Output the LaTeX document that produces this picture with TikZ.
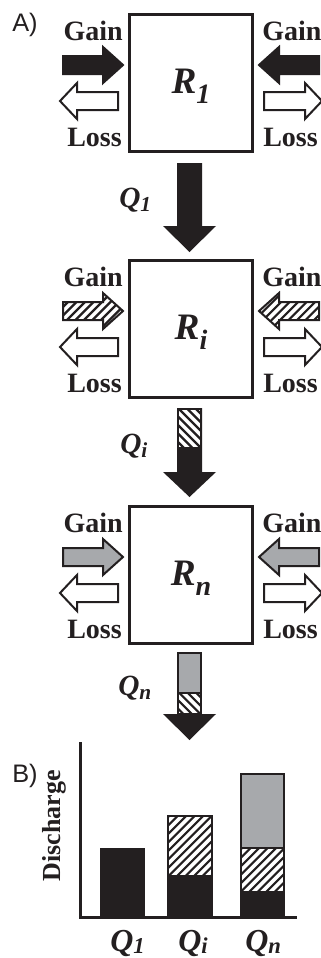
\documentclass[tikz,border=0pt]{standalone}
\usepackage{fontspec}
\setmainfont{Liberation Serif}
\newfontfamily\labelsans{Liberation Sans}
\definecolor{ink}{HTML}{231F20}
\definecolor{midgray}{HTML}{A7A9AC}
% horizontal block arrow: tail x, head-base x, tip x, centre y
\newcommand\rarr[4]{(#1,#4-9) -- (#2,#4-9) -- (#2,#4-18) -- (#3,#4) -- (#2,#4+18) -- (#2,#4+9) -- (#1,#4+9) -- cycle}
% vertical block arrow: top y, head-base y, tip y
\newcommand\darr[3]{(177,#1) -- (202,#1) -- (202,#2) -- (216,#2) -- (189.5,#3) -- (163,#2) -- (177,#2) -- cycle}
% hatch lines around a centre; #3 = 1 for /, -1 for \
\newcommand\hatchat[3]{\foreach \k in {-12,...,12}{\draw[hatchline] ({#1+\k*8.5-60},{#2+60*#3}) -- ({#1+\k*8.5+60},{#2-60*#3});}}
\newcommand\lowsub[3]{\raisebox{#1}{\fontsize{#2}{#2}\selectfont #3}}
\begin{document}
\begin{tikzpicture}[x=0.75pt,y=-0.75pt,
  regionbox/.style={draw=ink, line width=2.25pt, minimum width=92.25pt, minimum height=102.75pt, inner sep=0pt},
  outl/.style={draw=ink, line width=1.5pt},
  hatchline/.style={ink, line width=1.6pt},
  gl/.style={font=\fontsize{21}{21}\selectfont\bfseries, inner sep=0pt, text=ink},
  rl/.style={font=\fontsize{28}{28}\selectfont\bfseries\itshape, inner sep=0pt, text=ink},
  ql/.style={font=\fontsize{22}{22}\selectfont\bfseries\itshape, inner sep=0pt, text=ink},
  bql/.style={font=\fontsize{24}{24}\selectfont\bfseries\itshape, inner sep=0pt, text=ink},
  pl/.style={font=\fontsize{19}{19}\selectfont\labelsans, inner sep=0pt, text=ink},
]
\fill[white] (0,0) rectangle (321,958);
\useasboundingbox (0,0) rectangle (321,958);
\clip (0,0) rectangle (321,958);

\node[pl] (labA) at (25,25) {A)};

% boxes
\node[regionbox] (R1) at (191,83) {};
\node[regionbox] (Ri) at (191,329) {};
\node[regionbox] (Rn) at (191,575) {};
\node[rl, anchor=base] (R1t) at (191,93) {R\lowsub{-7.5pt}{21}{1}};
\node[rl, anchor=base] (Rit) at (191,339) {R\lowsub{-7.5pt}{21}{i}};
\node[rl, anchor=base] (Rnt) at (191,585) {R\lowsub{-7.5pt}{21}{n}};

% Gain / Loss labels
\foreach \T/\nm in {13/a,259/b,505/c}{
  \node[gl, anchor=base east] (gainL\nm) at (123,\T+27) {Gain};
  \node[gl, anchor=base west] (gainR\nm) at (262,\T+27) {Gain};
  \node[gl, anchor=base east] (lossL\nm) at (122,\T+133) {Loss};
  \node[gl, anchor=base west] (lossR\nm) at (263,\T+133) {Loss};
}

% R1 side arrows
\filldraw[fill=ink, outl] \rarr{63}{103}{123}{65};
\filldraw[fill=ink, outl] \rarr{319}{279}{259}{65};
% Ri side arrows (hatched)
\begin{scope}\clip \rarr{63}{103}{123}{311}; \hatchat{93}{311}{1}\end{scope}
\draw[outl] \rarr{63}{103}{123}{311};
\begin{scope}\clip \rarr{319}{279}{259}{311}; \hatchat{289}{311}{1}\end{scope}
\draw[outl] \rarr{319}{279}{259}{311};
% Rn side arrows (gray)
\filldraw[fill=midgray, outl] \rarr{63}{103}{123}{557};
\filldraw[fill=midgray, outl] \rarr{319}{279}{259}{557};
% loss arrows
\foreach \cy in {101,347,593}{
  \filldraw[fill=white, outl] \rarr{118}{77}{60}{\cy};
  \filldraw[fill=white, outl] \rarr{264}{305}{322}{\cy};
}

% Q1 arrow
\fill[ink] \darr{163}{226}{252};
\node[ql, anchor=base west] (Q1t) at (119,207) {Q\lowsub{-3pt}{16}{1}};
% Qi arrow
\fill[ink] \darr{408}{472}{497};
\fill[white] (178,409) rectangle (201,448);
\begin{scope}\clip (178,409) rectangle (201,448); \hatchat{189.5}{428}{-1}\end{scope}
\draw[outl] (178,409) rectangle (201,448);
\node[ql, anchor=base west] (Qit) at (120,453) {Q\lowsub{-3pt}{16}{i}};
% Qn arrow
\fill[ink] (163,714) -- (216,714) -- (189.5,740) -- cycle;
\fill[midgray] (178,653) rectangle (201,693);
\begin{scope}\clip (178,693) rectangle (201,714); \hatchat{189.5}{703}{-1}\end{scope}
\draw[outl] (178,653) rectangle (201,714);
\draw[outl] (178,693) -- (201,693);
\node[ql, anchor=base west] (Qnt) at (118,695) {Q\lowsub{-3pt}{16}{n}};

% B) bar chart
\node[pl] (labB) at (25,776) {B)};
\node[gl, rotate=90, font=\fontsize{19.5}{19.5}\selectfont\bfseries] (disch) at (54,826) {Discharge};
\fill[ink] (100,848) rectangle (145,917);
% Qi bar
\fill[ink] (167,876) rectangle (213,917);
\begin{scope}\clip (168,816) rectangle (212,876); \hatchat{190}{846}{1}\end{scope}
\draw[outl] (168,816) rectangle (212,917);
\draw[outl] (168,876) -- (212,876);
% Qn bar
\fill[midgray] (241,774) rectangle (284,848);
\begin{scope}\clip (241,848) rectangle (284,892); \hatchat{262.5}{870}{1}\end{scope}
\fill[ink] (240,892) rectangle (285,917);
\draw[outl] (241,774) rectangle (284,917);
\draw[outl] (241,848) -- (284,848);
\draw[outl] (241,892) -- (284,892);
% axes
\draw[ink, line width=2.25pt] (80,742) -- (80,917) -- (297,917);
% bar labels
\node[bql, anchor=base west] (bq1) at (110,951) {Q\lowsub{-2pt}{17}{1}};
\node[bql, anchor=base west] (bqi) at (178,951) {Q\lowsub{-2pt}{17}{i}};
\node[bql, anchor=base west] (bqn) at (245,951) {Q\lowsub{-2pt}{17}{n}};
\end{tikzpicture}
\end{document}
